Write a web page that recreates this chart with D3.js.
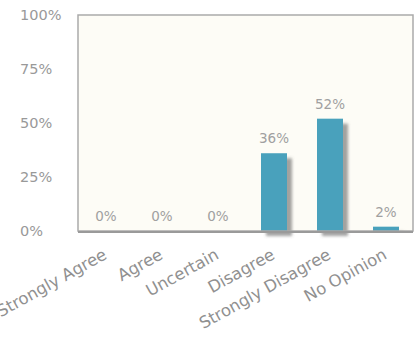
<!DOCTYPE html>
<html>
<head>
<meta charset="utf-8">
<script src="https://cdn.jsdelivr.net/npm/d3@7/dist/d3.min.js"></script>
<style>
  html, body { margin: 0; padding: 0; background: #ffffff; }
  svg { display: block; }
  text { font-family: "DejaVu Sans", Verdana, sans-serif; }
</style>
</head>
<body>
<svg id="chart" width="414" height="338"></svg>
<script>
// Survey responses (percent of respondents)
const categories = ["Strongly Agree", "Agree", "Uncertain", "Disagree", "Strongly Disagree", "No Opinion"];
const values = [0, 0, 0, 36, 52, 2];
const yTicks = [0, 25, 50, 75, 100];

const plot = { left: 78, top: 15, right: 413, bottom: 231 };

const svg = d3.select("#chart");

// soft shadow cast to the lower right of each bar
const defs = svg.append("defs");
const f = defs.append("filter").attr("id", "barShadow")
  .attr("x", "-20%").attr("y", "-20%").attr("width", "160%").attr("height", "140%");
f.append("feDropShadow").attr("dx", 5).attr("dy", 5)
  .attr("stdDeviation", 1.5).attr("flood-color", "#666").attr("flood-opacity", 0.6);

const inner = 30 / 56;
const x = d3.scaleBand()
  .domain(categories)
  .range([plot.left, plot.left + 336])
  .paddingInner(inner)
  .paddingOuter(inner / 2);

const y = d3.scaleLinear().domain([0, 100]).range([plot.bottom, plot.top]);

// plot area background
svg.append("rect")
  .attr("x", plot.left).attr("y", plot.top)
  .attr("width", plot.right - plot.left).attr("height", plot.bottom - plot.top)
  .attr("fill", "#fdfcf6");

// y axis labels (left aligned)
const yAxis = d3.axisLeft(y).tickValues(yTicks).tickFormat(d => d + "%").tickSize(0);
const gy = svg.append("g").attr("transform", `translate(${plot.left},0)`).call(yAxis);
gy.select(".domain").remove();
gy.selectAll("text")
  .attr("x", 20 - plot.left)
  .attr("text-anchor", "start")
  .attr("fill", "#999")
  .style("font-size", "14.5px");

// bars
svg.append("g").selectAll("rect")
  .data(values)
  .join("rect")
  .attr("x", (d, i) => x(categories[i]))
  .attr("y", d => y(d))
  .attr("width", x.bandwidth())
  .attr("height", d => y(0) - y(d))
  .attr("fill", "#4aa1bc")
  .attr("filter", "url(#barShadow)");

// value labels
svg.append("g").selectAll("text")
  .data(values)
  .join("text")
  .attr("x", (d, i) => x(categories[i]) + x.bandwidth() / 2)
  .attr("y", d => y(d) - 10)
  .attr("text-anchor", "middle")
  .attr("fill", "#a0a0a0")
  .style("font-size", "13.5px")
  .text(d => d + "%");

// frame
svg.append("rect")
  .attr("x", plot.left).attr("y", plot.top)
  .attr("width", plot.right - plot.left).attr("height", plot.bottom - plot.top)
  .attr("fill", "none")
  .attr("stroke", "#aaa")
  .attr("stroke-width", 1.5);
svg.append("line")
  .attr("x1", plot.left).attr("x2", plot.right)
  .attr("y1", plot.bottom + 1).attr("y2", plot.bottom + 1)
  .attr("stroke", "#9a9a9a").attr("stroke-width", 2);

// rotated category labels
const xAxis = d3.axisBottom(x).tickSize(0);
const gx = svg.append("g").attr("transform", `translate(0,${plot.bottom})`).call(xAxis);
gx.select(".domain").remove();
gx.selectAll(".tick text")
  .attr("x", 0).attr("y", 0).attr("dy", 0)
  .attr("transform", "translate(2,27) rotate(-29)")
  .attr("text-anchor", "end")
  .attr("fill", "#909090")
  .style("font-size", "16.5px");
</script>
</body>
</html>
